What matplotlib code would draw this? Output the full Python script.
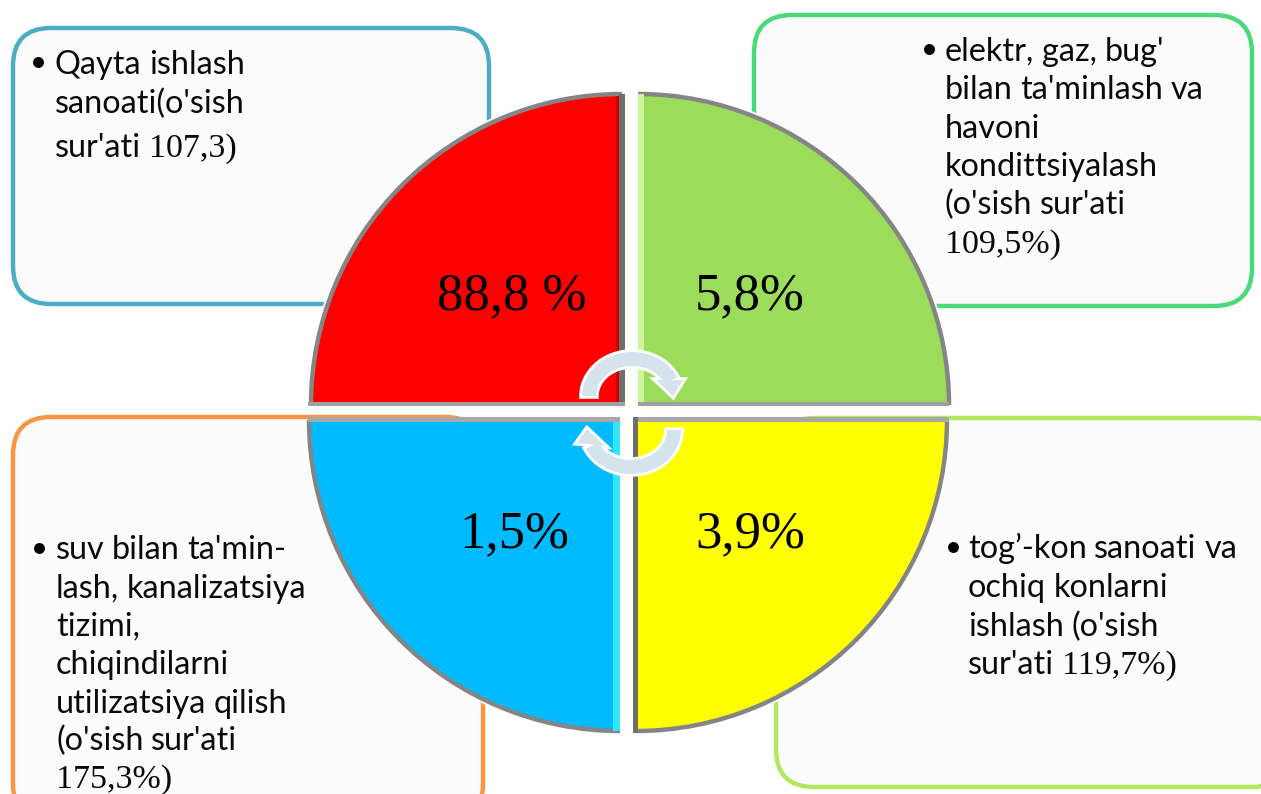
import re
import matplotlib
matplotlib.use('Agg')
import matplotlib.pyplot as plt
import numpy as np
from matplotlib.patches import Arc, FancyBboxPatch, Polygon, Rectangle, Wedge

W, H = 1261, 794

# quarter shares shown on the circle (the four sectors are drawn equal in the source)
share_labels = ['88,8 %', '5,8%', '1,5%', '3,9%']
sector_colors = ['#FF0000', '#9BDD5A', '#00BBFF', '#FFFF00']
sector_strips = ['#D00000', '#CFF59A', '#33E6FF', '#FFFF80']

box_edges = ['#4BACC6', '#4BD97A', '#F79646', '#B3E85C']

red_lines = ['Qayta ishlash', 'sanoati(o\'sish', 'sur\'ati 107,3)']
green_lines = ['elektr, gaz, bug\'', 'bilan ta\'minlash va', 'havoni',
               'kondittsiyalash', '(o\'sish sur\'ati', '109,5%)']
blue_lines = ['suv bilan ta\'min-', 'lash, kanalizatsiya', 'tizimi,', 'chiqindilarni',
              'utilizatsiya qilish', '(o\'sish sur\'ati', '175,3%)']
yellow_lines = ['tog’-kon sanoati va', 'ochiq konlarni', 'ishlash (o\'sish',
                'sur\'ati 119,7%)']

SANS = 'Lato'
SERIF = 'Liberation Serif'
SANS_SIZE = 23.3
SERIF_SIZE = 24.5
GREY = '#858585'

fig = plt.figure(figsize=(W / 100, H / 100), dpi=100)
ax = fig.add_axes([0, 0, 1, 1])
ax.set_xlim(0, W)
ax.set_ylim(H, 0)
ax.axis('off')
renderer = fig.canvas.get_renderer()


def draw_box(x0, y0, x1, y1, edge):
    ax.add_patch(FancyBboxPatch((x0 + 28, y0 + 28), x1 - x0 - 56, y1 - y0 - 56,
                                boxstyle='round,pad=28,rounding_size=38',
                                fc='#FBFBFB', ec=edge, lw=3.2, zorder=1))


def draw_line(x, y, line):
    # digits and percent signs are set in the serif face in the source
    for part in re.findall(r'\s+|\d[\d,%)]*|[^\s\d]+', line):
        if part.isspace():
            x += 7
            continue
        serif = part[0].isdigit()
        t = ax.text(x, y, part, va='baseline', ha='left', color='#0a0a0a', zorder=6,
                    family=SERIF if serif else SANS,
                    fontsize=SERIF_SIZE if serif else SANS_SIZE)
        x += t.get_window_extent(renderer).width + 0.5


def draw_text(x, baselines, lines, bullet):
    ax.scatter(*bullet, s=62, color='black', zorder=6, linewidths=0)
    for y, line in zip(baselines, lines):
        draw_line(x, y, line)


def draw_sector(cx, cy, r, start, color):
    ax.add_patch(Wedge((cx, cy), r + 4, start, start + 90, fc='white', ec='none', zorder=2))
    ax.add_patch(Wedge((cx, cy), r, start, start + 90, fc=color, ec='none', zorder=3))
    # y axis is inverted, so the arc angles are mirrored by matplotlib itself
    ax.add_patch(Arc((cx, cy), 2 * r, 2 * r, theta1=start, theta2=start + 90,
                     ec=GREY, lw=3.2, zorder=4))


def strip(x, y, w, h, color):
    ax.add_patch(Rectangle((x, y), w, h, fc=color, ec='none', zorder=4))


def draw_arrow(cx, cy, start, end, head):
    # curved arrow: band of an arc plus a triangular head, in pixel space
    a = np.radians(np.linspace(start, end, 40))
    outer = np.c_[cx + 50 * np.cos(a), cy + 44 * np.sin(a)]
    inner = np.c_[cx + 36 * np.cos(a[::-1]), cy + 30 * np.sin(a[::-1])]
    shapes = [np.r_[outer, inner], np.array(head)]
    for pts in shapes:
        ax.add_patch(Polygon(pts, closed=True, fc='white', ec='white', lw=4, zorder=7))
    for pts in shapes:
        ax.add_patch(Polygon(pts, closed=True, fc='#D5E3EC', ec='none', zorder=8))


draw_box(13, 28, 489, 304, box_edges[0])
draw_box(754, 15, 1252, 306, box_edges[1])
draw_box(13, 417, 483, 822, box_edges[2])
draw_box(776, 418, 1290, 787, box_edges[3])

draw_text(55, [74, 113, 157], red_lines, (38, 62))
draw_text(945, [61, 99, 138, 176, 214, 253], green_lines, (929, 49))
draw_text(56, [559, 598, 636, 674, 713, 750, 788], blue_lines, (39, 548))
draw_text(968, [558, 597, 636, 674], yellow_lines, (953, 547))

draw_sector(622, 405, 311, 180, sector_colors[0])
draw_sector(638, 405, 311, 270, sector_colors[1])
draw_sector(620, 420, 311, 90, sector_colors[2])
draw_sector(636, 420, 311, 0, sector_colors[3])

# bevels and grey rims along the straight edges next to the cross
strip(616, 96, 3, 306, sector_strips[0])
strip(619, 94, 6, 311, '#6E6E6E')
strip(638, 94, 6, 308, sector_strips[1])
strip(308, 402, 317, 4, '#A0A0A0')
strip(638, 402, 311, 4, '#A0A0A0')
strip(308, 417, 312, 5, '#A8A8A8')
strip(633, 417, 316, 5, '#A8A8A8')
strip(613, 422, 7, 309, sector_strips[2])
strip(633, 417, 5, 316, '#6E6E6E')

for pos, label in zip([(512, 296), (750, 296), (514, 534), (750, 534)], share_labels):
    ax.text(*pos, label, ha='center', va='center', family=SERIF, fontsize=38,
            color='black', zorder=5)

draw_arrow(632, 396, 180, 335, [(683, 380), (673, 396), (656, 380)])
draw_arrow(631, 430, 0, 155, [(577, 443), (587, 429), (605, 446)])

fig.savefig('out.png', dpi=100, facecolor='white')
